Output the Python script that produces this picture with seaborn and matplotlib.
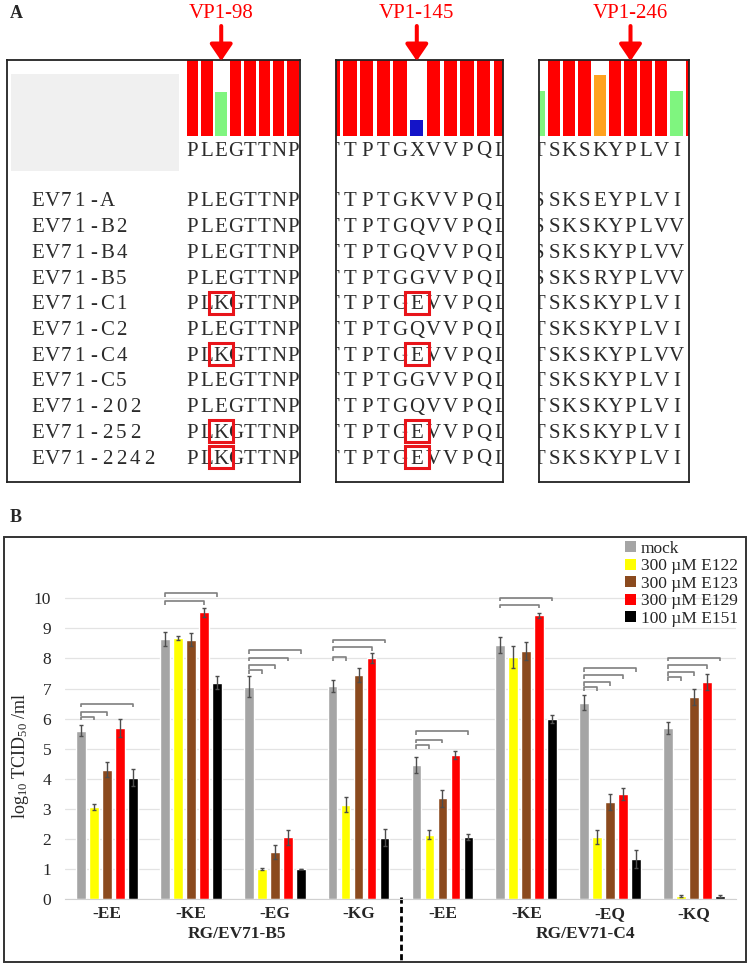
import numpy as np
import pandas as pd
import matplotlib
matplotlib.use('Agg')
import matplotlib.pyplot as plt
import seaborn as sb
from matplotlib.patches import Rectangle, Patch

# ---------------- Panel A data ----------------
strains = ['EV71-A', 'EV71-B2', 'EV71-B4', 'EV71-B5', 'EV71-C1', 'EV71-C2',
           'EV71-C4', 'EV71-C5', 'EV71-202', 'EV71-252', 'EV71-2242']

site_labels = ['VP1-98', 'VP1-145', 'VP1-246']

win1_consensus = 'PLEGTTNP'
win1_seqs = ['PLEGTTNP', 'PLEGTTNP', 'PLEGTTNP', 'PLEGTTNP', 'PLKGTTNP', 'PLEGTTNP',
             'PLKGTTNP', 'PLEGTTNP', 'PLEGTTNP', 'PLKGTTNP', 'PLKGTTNP']
win1_conservation = [1, 1, 0.58, 1, 1, 1, 1, 1]
win1_colors = ['#ff0000', '#ff0000', '#7ff57f', '#ff0000', '#ff0000', '#ff0000', '#ff0000', '#ff0000']

win2_consensus = 'TTPTGXVVPQL'
win2_seqs = ['TTPTGKVVPQL', 'TTPTGQVVPQL', 'TTPTGQVVPQL', 'TTPTGGVVPQL', 'TTPTGEVVPQL', 'TTPTGQVVPQL',
             'TTPTGEVVPQL', 'TTPTGGVVPQL', 'TTPTGQVVPQL', 'TTPTGEVVPQL', 'TTPTGEVVPQL']
win2_conservation = [1, 1, 1, 1, 1, 0.21, 1, 1, 1, 1, 1]
win2_colors = ['#ff0000'] * 5 + ['#1414c8'] + ['#ff0000'] * 5

win3_consensus = 'TSKSKYPLVII'
win3_seqs = ['SSKSEYPLVII', 'SSKSKYPLVVI', 'SSKSKYPLVVI', 'SSKSRYPLVVI', 'TSKSKYPLVII', 'TSKSKYPLVII',
             'TSKSKYPLVVI', 'TSKSKYPLVII', 'TSKSKYPLVII', 'TSKSKYPLVII', 'TSKSKYPLVII']
win3_conservation = [0.59, 1, 1, 1, 0.8, 1, 1, 1, 1, 0.59, 1]
win3_colors = ['#7ff57f', '#ff0000', '#ff0000', '#ff0000', '#ffa21f', '#ff0000',
               '#ff0000', '#ff0000', '#ff0000', '#7ff57f', '#ff0000']

site_index = [2, 5, 6]
marked_rows = [4, 6, 9, 10]

# ---------------- Panel B data ----------------
groups = ['-EE', '-KE', '-EG', '-KG', '-EE', '-KE', '-EQ', '-KQ']
viruses = ['RG/EV71-B5'] * 4 + ['RG/EV71-C4'] * 4
treatments = ['mock', '300 µM E122', '300 µM E123', '300 µM E129', '100 µM E151']
palette = ['#a5a5a5', '#ffff00', '#8b4a1e', '#ff0000', '#000000']

titer_mock = [5.6, 8.65, 7.06, 7.09, 4.45, 8.45, 6.52, 5.68]
titer_e122 = [3.06, 8.68, 1.0, 3.14, 2.14, 8.05, 2.06, 0.1]
titer_e123 = [4.3, 8.62, 1.57, 7.45, 3.35, 8.25, 3.22, 6.71]
titer_e129 = [5.68, 9.53, 2.05, 8.01, 4.79, 9.43, 3.49, 7.21]
titer_e151 = [4.04, 7.19, 1.0, 2.04, 2.06, 5.98, 1.33, 0.1]

sd_mock = [0.18, 0.22, 0.34, 0.19, 0.27, 0.27, 0.25, 0.2]
sd_e122 = [0.11, 0.08, 0.02, 0.24, 0.14, 0.36, 0.24, 0.03]
sd_e123 = [0.25, 0.22, 0.24, 0.24, 0.28, 0.3, 0.26, 0.27]
sd_e129 = [0.3, 0.16, 0.26, 0.17, 0.14, 0.07, 0.19, 0.26]
sd_e151 = [0.28, 0.22, 0.0, 0.28, 0.11, 0.13, 0.3, 0.03]

# significance brackets: mock -> treatment index, at height
bracket_target = [[1, 2, 4], [3, 4], [1, 2, 3, 4], [1, 3, 4],
                  [1, 2, 4], [3, 4], [1, 2, 3, 4], [1, 2, 3, 4]]
bracket_height = [[6.06, 6.22, 6.5], [9.9, 10.17], [7.6, 7.77, 8.03, 8.27], [8.05, 8.38, 8.62],
                  [5.12, 5.3, 5.59], [9.79, 10.02], [7.05, 7.22, 7.44, 7.68], [7.38, 7.55, 7.77, 8.02]]

# ---------------- style ----------------
sb.set_style('white')
plt.rcParams['font.family'] = ['Liberation Serif', 'DejaVu Serif']
plt.rcParams['mathtext.default'] = 'regular'

W, H = 750, 966
fig = plt.figure(figsize=(W / 100, H / 100), dpi=100)


def fbox(l, t, r, b):
    return [l / W, 1 - b / H, (r - l) / W, (b - t) / H]


seq_font = 'Liberation Serif'
seq_size = 15
seq_color = '#2b2b2b'

# box geometry in pixels: left, right, centre of residue 0, residue pitch
box_geo = [(7, 300, 192.5, 14.36), (336, 503, 333.3, 16.7), (539, 689, 538.7, 15.3)]
wins = [(win1_consensus, win1_seqs, win1_conservation, win1_colors),
        (win2_consensus, win2_seqs, win2_conservation, win2_colors),
        (win3_consensus, win3_seqs, win3_conservation, win3_colors)]
box_top, box_bot, logo_bot = 60, 482, 135.5
row0, row_pitch, cons_y = 200, 25.7, 149
name_x0, name_pitch = 38, 13.9


def put_letters(ax, xs, y, text):
    for x, ch in zip(xs, text):
        ax.text(x, y + 6.5, ch, ha='center', va='baseline', family=seq_font,
                fontsize=seq_size, color=seq_color, clip_on=True)


for k, ((left, right, c0, pitch), (cons, seqs, consv, cols)) in enumerate(zip(box_geo, wins)):
    xl = ((left - c0) / pitch, (right - c0) / pitch)

    # conservation bars
    lax = fig.add_axes(fbox(left, box_top, right, logo_bot))
    lax.bar(np.arange(len(consv)), consv, width=0.8, color=cols, linewidth=0)
    lax.set_xlim(*xl)
    lax.set_ylim(0, 1)
    lax.axis('off')

    ax = fig.add_axes(fbox(left, box_top, right, box_bot))
    ax.set_facecolor('none')
    ax.set_xlim(*xl)
    ax.set_ylim(box_bot, box_top)
    ax.set_xticks([])
    ax.set_yticks([])
    for s in ax.spines.values():
        s.set_color('#222222')
        s.set_linewidth(1.3)

    put_letters(ax, range(len(cons)), cons_y, cons)
    for r, seq in enumerate(seqs):
        y = row0 + r * row_pitch
        put_letters(ax, range(len(seq)), y, seq)
        if k < 2 and r in marked_rows:
            w = 24 / pitch
            ax.add_patch(Rectangle((site_index[k] - w / 2, y - 11), w, 22, fill=False,
                                   ec='#e8141a', lw=2.2, zorder=5))

    if k == 0:
        ax.add_patch(Rectangle(((11 - c0) / pitch, 74), 168 / pitch, 97,
                               facecolor='#f0f0f0', edgecolor='none'))
        for r, name in enumerate(strains):
            xs = [(name_x0 + i * name_pitch - c0) / pitch for i in range(len(name))]
            put_letters(ax, xs, row0 + r * row_pitch, name)

    # site arrow and label
    s = site_index[k]
    ax.annotate('', xy=(s, box_top + 1), xytext=(s, 26), annotation_clip=False,
                arrowprops=dict(arrowstyle='-|>,head_length=0.5,head_width=0.34', lw=2.9,
                                color='#ff0000', shrinkA=0, shrinkB=0, mutation_scale=20))
    ax.text(s, 13, site_labels[k], ha='center', va='center', color='#ff0000',
            fontsize=15, clip_on=False)

fig.text(10 / W, 1 - 14 / H, 'A', fontsize=13, fontweight='bold', va='center')
fig.text(10 / W, 1 - 518 / H, 'B', fontsize=13, fontweight='bold', va='center')

# ---------------- Panel B ----------------
fig.add_artist(Rectangle((4 / W, 1 - 962 / H), 742 / W, (962 - 537) / H,
                         transform=fig.transFigure, fill=False, lw=1.4, ec='#333333'))

keys = [v + g for v, g in zip(viruses, groups)]
titers = [titer_mock, titer_e122, titer_e123, titer_e129, titer_e151]
sds = [sd_mock, sd_e122, sd_e123, sd_e129, sd_e151]
rows = []
for t, vals, errs in zip(treatments, titers, sds):
    for kk, v, e in zip(keys, vals, errs):
        rows.append({'key': kk, 'treatment': t, 'titer': v, 'sd': e})
df = pd.DataFrame(rows)

ymax = 11.6
bx = fig.add_axes(fbox(65, 899 - ymax * 30.07, 736, 899))
sb.barplot(data=df, x='key', y='titer', hue='treatment', order=keys, hue_order=treatments,
           palette=palette, saturation=1, width=0.775, gap=0.25, errorbar=None, ax=bx,
           legend=False)
bx.set_ylim(0, ymax)
bx.set_xlim(-0.5, 7.5)

# error bars and brackets from the bar positions
centres = np.zeros((5, 8))
for h, cont in enumerate(bx.containers[:5]):
    for i, bar in enumerate(cont.patches):
        centres[h, i] = bar.get_x() + bar.get_width() / 2
for h in range(5):
    bx.errorbar(centres[h], titers[h], yerr=sds[h], fmt='none', ecolor='#4d4d4d',
                elinewidth=1, capsize=1.6, capthick=1, zorder=4)

tick = 0.12
for i in range(8):
    for tgt, hgt in zip(bracket_target[i], bracket_height[i]):
        x0, x1 = centres[0, i], centres[tgt, i]
        bx.plot([x0, x0, x1, x1], [hgt - tick, hgt, hgt, hgt - tick], color='#7f7f7f',
                lw=1.2, solid_capstyle='butt')

bx.set_yticks(range(0, 11))
bx.set_yticklabels([str(v) for v in range(0, 11)], fontsize=12.5)
bx.set_xticks(range(8))
bx.set_xticklabels(groups, fontsize=12.5, fontweight='bold')
bx.tick_params(axis='both', length=0)
bx.tick_params(axis='y', pad=10)
bx.tick_params(axis='x', pad=5)
bx.set_xlabel('')
bx.set_ylabel(r'log$_{10}$ TCID$_{50}$ /ml', fontsize=13)
bx.yaxis.set_label_coords(-0.05, 0.41)
bx.yaxis.grid(True, color='#e3e3e3', lw=0.9)
bx.set_axisbelow(True)
for side in ['top', 'right', 'left']:
    bx.spines[side].set_visible(False)
bx.spines['bottom'].set_color('#d0d0d0')

bx.text(1.55, -1.15, 'RG/EV71-B5', ha='center', va='center', fontsize=12.5, fontweight='bold')
bx.text(5.7, -1.15, 'RG/EV71-C4', ha='center', va='center', fontsize=12.5, fontweight='bold')
bx.plot([3.5, 3.5], [0.08, -2.1], color='black', lw=2, ls=(0, (2.2, 1.2)), clip_on=False)

handles = [Patch(facecolor=c, edgecolor='none') for c in palette]
bx.legend(handles, treatments, loc='upper right', bbox_to_anchor=(738 / W, 1 - 541 / H),
          bbox_transform=fig.transFigure, frameon=False, fontsize=12.5, handlelength=0.6,
          handleheight=0.6, handletextpad=0.3, labelspacing=0.08, borderpad=0, borderaxespad=0)

fig.savefig('out.png', dpi=100)
